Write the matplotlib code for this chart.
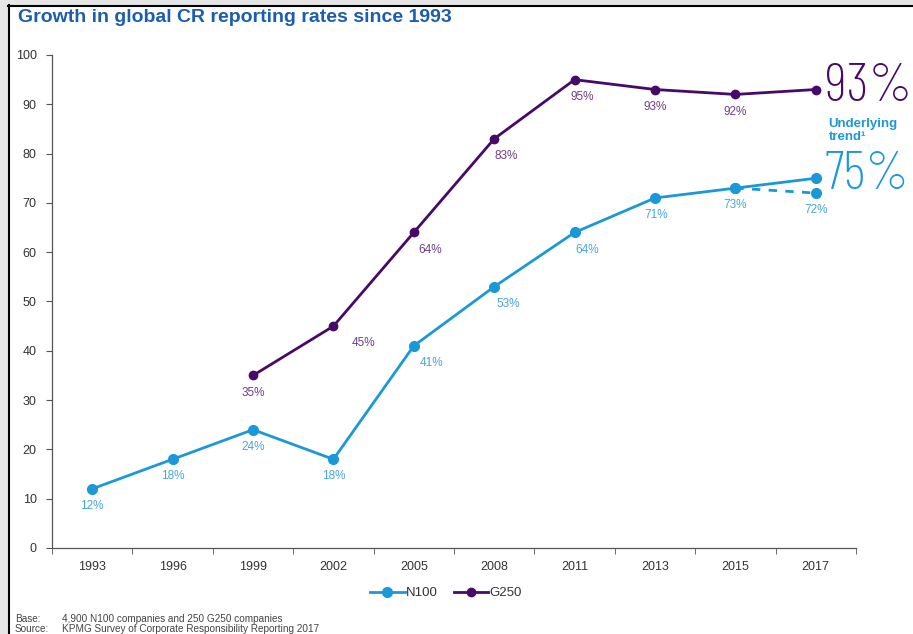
import matplotlib.pyplot as plt
import matplotlib.patches as patches
import numpy as np

plt.rcParams['font.family'] = ['Liberation Sans', 'DejaVu Sans']

years = ['1993', '1996', '1999', '2002', '2005', '2008', '2011', '2013', '2015', '2017']
n100 = [12, 18, 24, 18, 41, 53, 64, 71, 73, 75]
g250 = [None, None, 35, 45, 64, 83, 95, 93, 92, 93]
n100_reported_2017 = 72
# label x offsets (in category units) for steep segments
n100_lab_dx = [0, 0, 0, 0, 0.22, 0.18, 0.16, 0.02, 0, 0]
g250_lab_dx = [0, 0, 0, 0.37, 0.21, 0.15, 0.1, 0, 0, 0]

c_n100 = '#1b98d8'
c_n100_txt = '#4aa6d4'
c_g250 = '#470a68'
c_g250_txt = '#6e3f88'
big_font = ['Barlow Condensed', 'Roboto Condensed', 'Roboto', 'DejaVu Sans']

fig = plt.figure(figsize=(9.13, 6.34), dpi=100)
ax = fig.add_axes([52/913, 1-548/634, (856-52)/913, (548-55)/634])

x = np.arange(len(years))
ax.plot(x, n100, color=c_n100, lw=2, marker='o', ms=7, label='N100', zorder=3)
gx = [i for i, v in enumerate(g250) if v is not None]
gy = [v for v in g250 if v is not None]
ax.plot(gx, gy, color=c_g250, lw=2, marker='o', ms=6, label='G250', zorder=3)
ax.plot([8, 9], [n100[8], n100_reported_2017], color=c_n100, lw=2, ls=(0, (3, 3)),
        marker='o', ms=7, zorder=2)

for i, v in enumerate(n100):
    if i == 9:
        continue
    ax.annotate('%d%%' % v, (i + n100_lab_dx[i], v), xytext=(0, -8), textcoords='offset points',
                ha='center', va='top', color=c_n100_txt, fontsize=8.5)
ax.annotate('%d%%' % n100_reported_2017, (9, n100_reported_2017), xytext=(0, -8),
            textcoords='offset points', ha='center', va='top', color=c_n100_txt, fontsize=8.5)
for i, v in enumerate(g250):
    if v is None or i == 9:
        continue
    ax.annotate('%d%%' % v, (i + g250_lab_dx[i], v), xytext=(0, -8), textcoords='offset points',
                ha='center', va='top', color=c_g250_txt, fontsize=8.5)

# big callouts on the right
ax.text(9.11, 93.5, '%d%%' % g250[9], color=c_g250, fontsize=40, fontweight=275,
        family=big_font, ha='left', va='center', clip_on=False)
ax.text(9.16, 84.6, 'Underlying\ntrend\u00b9', color=c_n100, fontsize=9.5, fontweight='bold',
        ha='left', va='center', linespacing=1.1, clip_on=False)
ax.text(9.11, 75.6, '%d%%' % n100[9], color=c_n100, fontsize=40, fontweight=275,
        family=big_font, ha='left', va='center', clip_on=False)

ax.set_xlim(-0.5, 9.5)
ax.set_ylim(0, 100)
ax.set_yticks(range(0, 101, 10))
ax.set_xticks(x)
ax.set_xticklabels(years)
ax.set_xticks(np.arange(-0.5, 10, 1), minor=True)
ax.tick_params(axis='x', which='major', length=0, pad=9, labelsize=9, labelcolor='#333333')
ax.tick_params(axis='x', which='minor', length=4, color='#555555', direction='out')
ax.tick_params(axis='y', length=4, color='#555555', labelsize=9, labelcolor='#333333', pad=7)
for s in ['top', 'right']:
    ax.spines[s].set_visible(False)
for s in ['left', 'bottom']:
    ax.spines[s].set_color('#555555')
    ax.spines[s].set_linewidth(0.9)

fig.legend(loc='center', bbox_to_anchor=(446/913, 1-593/634), ncol=2, frameon=False,
           fontsize=9.5, handlelength=2.6, handletextpad=0.1, columnspacing=1.2, labelcolor='#333333')

fig.text(18/913, 1-17/634, 'Growth in global CR reporting rates since 1993', color='#1c5db0',
         fontsize=14, fontweight='bold', ha='left', va='center')

fig.text(15/913, 1-619/634, 'Base:', fontsize=7.2, color='#444444', va='center')
fig.text(62/913, 1-619/634, '4,900 N100 companies and 250 G250 companies', fontsize=7.2,
         color='#444444', va='center')
fig.text(15/913, 1-629/634, 'Source:', fontsize=7.2, color='#444444', va='center')
fig.text(62/913, 1-629/634, 'KPMG Survey of Corporate Responsibility Reporting 2017', fontsize=7.2,
         color='#444444', va='center')

# screenshot frame
fig.patches.append(patches.Rectangle((0, 0), 8/913, 1, transform=fig.transFigure,
                                     color='#e6e6e6', zorder=-1))
fig.patches.append(patches.Rectangle((0, 1-5/634), 1, 5/634, transform=fig.transFigure,
                                     color='#e6e6e6', zorder=-1))
fig.lines.append(plt.Line2D([8.5/913, 8.5/913], [0, 1-5/634], transform=fig.transFigure,
                            color='black', lw=1.5))
fig.lines.append(plt.Line2D([8/913, 1], [1-5.5/634, 1-5.5/634], transform=fig.transFigure,
                            color='black', lw=1.5))

fig.savefig('out.png', dpi=100)
